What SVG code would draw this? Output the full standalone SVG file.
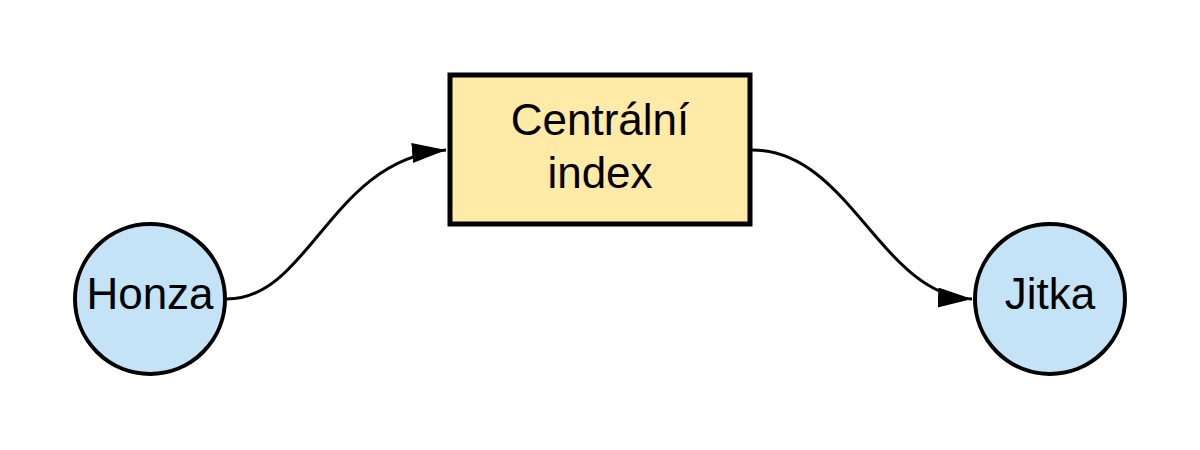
<svg xmlns="http://www.w3.org/2000/svg" width="1200" height="450" viewBox="0 0 1200 450">
<style>
.person{fill:#c5e3f6;stroke:#000;stroke-width:4}
.box{fill:#ffeaa7;stroke:#000;stroke-width:5}
.lbl{font-family:"Liberation Sans",Arial,sans-serif;font-size:44px;fill:#000;text-anchor:middle}
.edge{fill:none;stroke:#000;stroke-width:3}
</style>
<defs>
<marker id="arr" markerUnits="userSpaceOnUse" markerWidth="36" markerHeight="22" refX="34" refY="10" orient="auto">
<path d="M0,0 L34,10 L0,20 z" fill="#000"/>
</marker>
</defs>
<g id="connectors">
<path class="edge" d="M227,299 C310,299 330,160 446,150" marker-end="url(#arr)"/>
<path class="edge" d="M752,150 C850,150 880,295 972,299" marker-end="url(#arr)"/>
</g>
<g id="honza">
<circle class="person" cx="150" cy="299" r="75"/>
<text class="lbl" x="150" y="309">Honza</text>
</g>
<g id="index">
<rect class="box" x="450" y="75" width="300" height="149"/>
<text class="lbl" x="600" y="135">Centrální</text>
<text class="lbl" x="600" y="188">index</text>
</g>
<g id="jitka">
<circle class="person" cx="1050" cy="299" r="75"/>
<text class="lbl" x="1050" y="309">Jitka</text>
</g>
</svg>
